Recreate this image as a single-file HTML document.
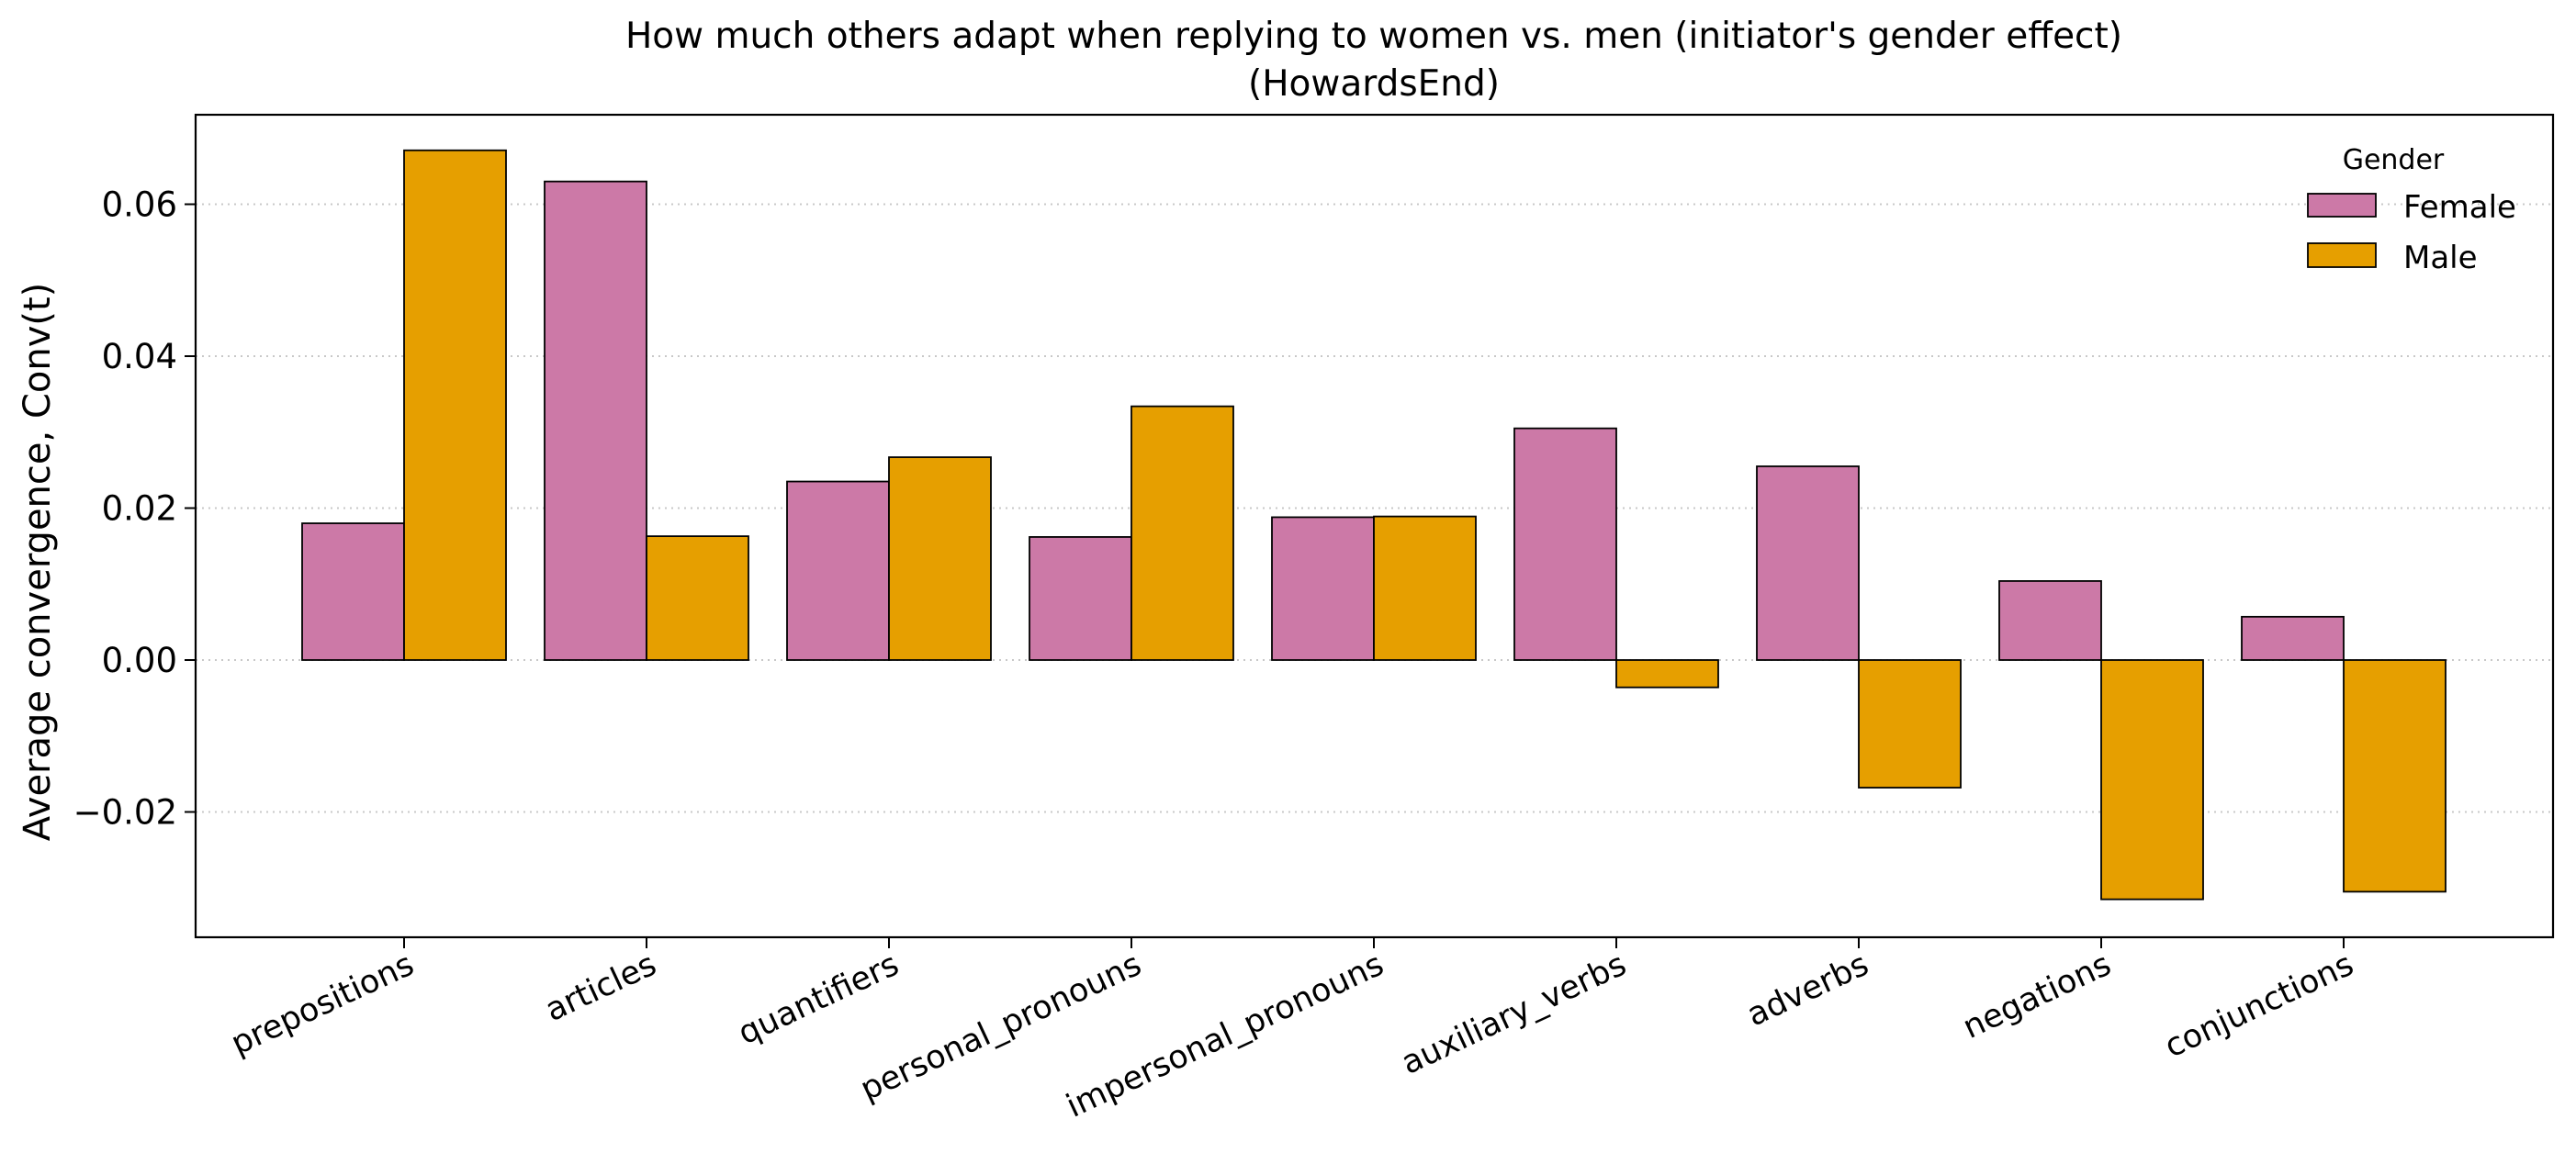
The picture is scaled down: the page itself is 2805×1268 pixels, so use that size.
<!DOCTYPE html>
<html><head><meta charset="utf-8"><style>
html,body{margin:0;padding:0;background:#fff}
svg{display:block;font-family:"DejaVu Sans","Liberation Sans",sans-serif}
</style></head><body>
<svg id="chart" width="2805" height="1268" viewBox="0 0 2805 1268">
<text x="1496" y="52" font-size="39" text-anchor="middle">How much others adapt when replying to women vs. men (initiator's gender effect)</text>
<text x="1496" y="104" font-size="39" text-anchor="middle">(HowardsEnd)</text>
<text transform="translate(54,612) rotate(-90)" font-size="40" text-anchor="middle">Average convergence, Conv(t)</text>
<g id="grid"></g><g id="bars"></g><g id="axes"></g>
<g>
<text x="2606" y="184" font-size="30" text-anchor="middle">Gender</text>
<rect x="2513" y="211" width="74" height="25" fill="#CC79A7" stroke="#000" stroke-width="1.8"></rect>
<text x="2617" y="237" font-size="34">Female</text>
<rect x="2513" y="265" width="74" height="26" fill="#E69F00" stroke="#000" stroke-width="1.8"></rect>
<text x="2617" y="292" font-size="34">Male</text>
</g>
</svg>
<script>
const categories=["prepositions","articles","quantifiers","personal_pronouns","impersonal_pronouns","auxiliary_verbs","adverbs","negations","conjunctions"];
const femaleValues=[0.0180,0.0630,0.0235,0.0162,0.0188,0.0305,0.0255,0.0104,0.0057];
const maleValues=[0.0671,0.0163,0.0267,0.0334,0.0189,-0.0036,-0.0168,-0.0315,-0.0305];
const yTicks=[-0.02,0,0.02,0.04,0.06];
const yTickLabels=["\u22120.02","0.00","0.02","0.04","0.06"];
const NS="http://www.w3.org/2000/svg";
const L=213,R=2780,T=125,B=1021,zeroY=719,pxPerUnit=8275;
const yS=v=>zeroY-v*pxPerUnit;
const step=264,x0=440,bw=111;
const xS=i=>x0+i*step;
function mk(tag,attrs,parent){const e=document.createElementNS(NS,tag);for(const k in attrs)e.setAttribute(k,attrs[k]);parent.appendChild(e);return e;}
const grid=document.getElementById('grid'),bars=document.getElementById('bars'),axes=document.getElementById('axes');
yTicks.forEach((t,i)=>{const y=yS(t);
 const g=mk('line',{x1:L,x2:R,y1:y,y2:y,stroke:'#b0b0b0','stroke-width':2,'stroke-dasharray':'2,5','stroke-opacity':0.7},grid);
 
 
 const tk=mk('line',{x1:L-12,x2:L,y1:y,y2:y,stroke:'#000','stroke-width':2},axes);
 
 
 const tx=mk('text',{x:L-20,y:y+13,'font-size':37,'text-anchor':'end'},axes);tx.textContent=yTickLabels[i];
 
 
});
categories.forEach((c,i)=>{const cx=xS(i);
 const f=femaleValues[i],m=maleValues[i];
 const r1=mk('rect',{x:cx-bw,y:Math.min(yS(f),zeroY),width:bw,height:Math.abs(yS(f)-zeroY),fill:'#CC79A7',stroke:'#000','stroke-width':1.8},bars);
 
 
 const r2=mk('rect',{x:cx,y:Math.min(yS(m),zeroY),width:bw,height:Math.abs(yS(m)-zeroY),fill:'#E69F00',stroke:'#000','stroke-width':1.8},bars);
 
 
 const tk=mk('line',{x1:cx,x2:cx,y1:B,y2:B+12,stroke:'#000','stroke-width':2},axes);
 
 
 const tx=mk('text',{transform:`translate(${cx+2},${B+14}) rotate(-25)`,'font-size':35,'text-anchor':'end',dy:'0.75em'},axes);tx.textContent=c;
 
 
});
const fr=mk('rect',{x:L,y:T,width:R-L,height:B-T,fill:'none',stroke:'#000','stroke-width':2.2},axes);


</script>
</body></html>
